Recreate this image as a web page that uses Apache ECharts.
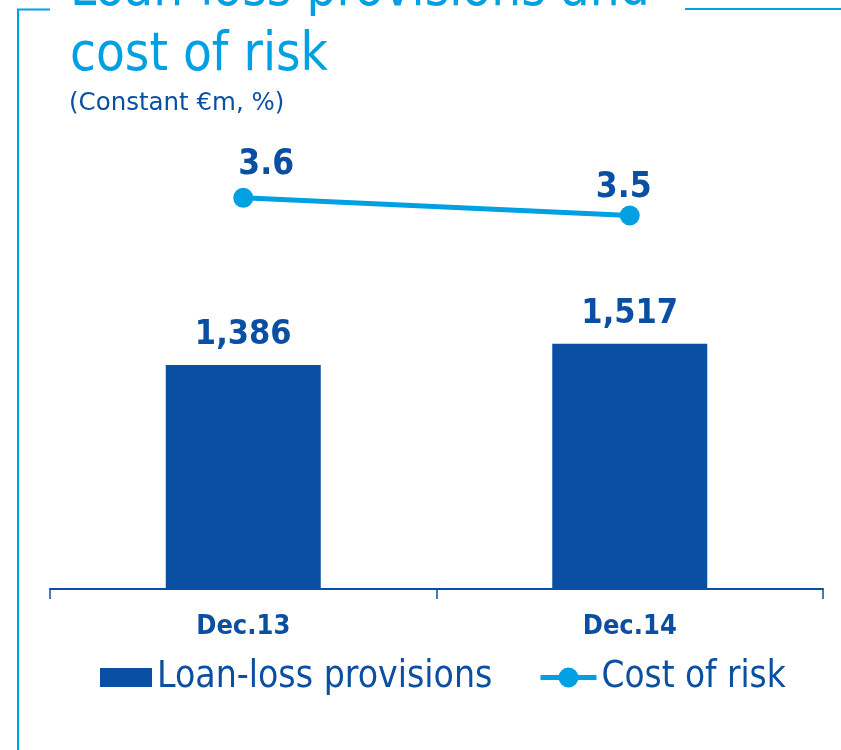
<!DOCTYPE html>
<html>
<head>
<meta charset="utf-8">
<script src="https://cdn.jsdelivr.net/npm/echarts@6/dist/echarts.min.js"></script>
<style>
  html, body { margin: 0; padding: 0; background: #ffffff; }
  #chart { width: 841px; height: 750px; }
</style>
</head>
<body>
<div id="chart"></div>
<script>
// Periods and values
const categories = ['Dec.13', 'Dec.14'];
const provisions = [1386, 1517];      // Loan-loss provisions, constant €m
const costOfRisk = [3.6, 3.5];        // Cost of risk, %
const provisionLabels = ['1,386', '1,517'];
const riskLabels = ['3.6', '3.5'];

// Label nudges for the cost-of-risk points (style only)
const riskLabelOffsets = [[23, 0], [-6, 0]];
const riskLabelDistances = [5, 0];

const DARK = '#0b4fa2';
const LIGHT = '#00a0e3';
const FONT = '"DejaVu Sans Condensed", "DejaVu Sans", sans-serif';
const FONT_WIDE = '"DejaVu Sans", sans-serif';

const chart = echarts.init(document.getElementById('chart'), null, { renderer: 'canvas' });

chart.setOption({
  backgroundColor: '#ffffff',
  animation: false,
  textStyle: { fontFamily: FONT },
  title: [
    {
      text: 'Loan-loss provisions and\ncost of risk',
      left: 70,
      top: -41,
      padding: 0,
      textStyle: { fontFamily: FONT, fontSize: 52.5, lineHeight: 65, fontWeight: 'normal', color: LIGHT }
    },
    {
      text: '(Constant €m, %)',
      left: 69,
      top: 91,
      padding: 0,
      textStyle: { fontFamily: FONT_WIDE, fontSize: 24.5, fontWeight: 'normal', color: DARK }
    }
  ],
  graphic: [
    { type: 'line', silent: true, shape: { x1: 18, y1: 9.5, x2: 18, y2: 750 }, style: { stroke: LIGHT, lineWidth: 2 } },
    { type: 'line', silent: true, shape: { x1: 17, y1: 9.5, x2: 50, y2: 9.5 }, style: { stroke: LIGHT, lineWidth: 2 } },
    { type: 'line', silent: true, shape: { x1: 685, y1: 9, x2: 841, y2: 9 }, style: { stroke: LIGHT, lineWidth: 2 } }
  ],
  legend: [
    {
      data: ['Loan-loss provisions'],
      left: 100,
      top: 659,
      padding: 0,
      itemWidth: 52,
      itemHeight: 19,
      icon: 'rect',
      textStyle: { fontFamily: FONT, fontSize: 37, color: DARK }
    },
    {
      data: ['Cost of risk'],
      left: 538,
      top: 659,
      padding: 0,
      itemWidth: 56,
      itemHeight: 25,
      lineStyle: { width: 5 },
      textStyle: { fontFamily: FONT, fontSize: 36.5, color: DARK }
    }
  ],
  grid: { left: 50, right: 18, top: 104, bottom: 161, containLabel: false },
  xAxis: {
    type: 'category',
    data: categories,
    boundaryGap: true,
    axisLine: { show: true, lineStyle: { color: DARK, width: 2 } },
    axisTick: { show: true, length: 10, lineStyle: { color: DARK, width: 1.5 } },
    axisLabel: { margin: 24, fontFamily: FONT, fontSize: 27, fontWeight: 'bold', color: DARK }
  },
  yAxis: [
    { type: 'value', min: 0, max: 3000, show: false, splitLine: { show: false } },
    { type: 'value', min: 1.39, max: 4.13, show: false, splitLine: { show: false } }
  ],
  series: [
    {
      name: 'Loan-loss provisions',
      type: 'bar',
      yAxisIndex: 0,
      barWidth: 155,
      itemStyle: { color: DARK },
      data: provisions,
      label: {
        show: true,
        position: 'top',
        distance: 13,
        fontFamily: FONT,
        fontSize: 34,
        fontWeight: 'bold',
        color: DARK,
        formatter: p => provisionLabels[p.dataIndex]
      }
    },
    {
      name: 'Cost of risk',
      type: 'line',
      yAxisIndex: 1,
      symbol: 'circle',
      symbolSize: 20,
      lineStyle: { color: LIGHT, width: 5 },
      itemStyle: { color: LIGHT },
      data: costOfRisk.map((v, i) => ({
        value: v,
        label: { offset: riskLabelOffsets[i], distance: riskLabelDistances[i] }
      })),
      label: {
        show: true,
        position: 'top',
        fontFamily: FONT,
        fontSize: 35,
        fontWeight: 'bold',
        color: DARK,
        formatter: p => riskLabels[p.dataIndex]
      },
      z: 5
    }
  ]
});
</script>
</body>
</html>
